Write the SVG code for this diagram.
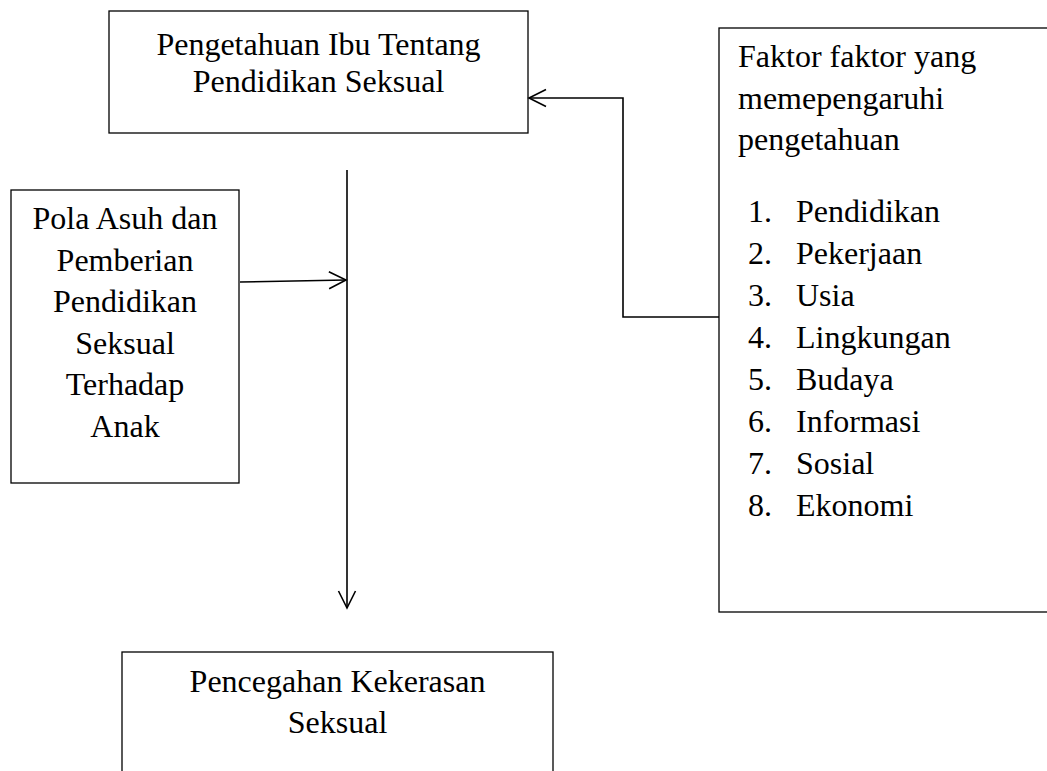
<svg xmlns="http://www.w3.org/2000/svg" width="1047" height="771" viewBox="0 0 1047 771">
<style>
.box{fill:#fff;stroke:#000;stroke-width:1.3}
.t{font-family:"Liberation Serif","Times New Roman",serif;font-size:32px;fill:#000}
.c{text-anchor:middle}
.ln{fill:none;stroke:#000;stroke-width:1.6}
</style>
<defs>
<marker id="arr" markerUnits="userSpaceOnUse" viewBox="-20 -10 22 20" markerWidth="22" markerHeight="20" refX="0" refY="0" orient="auto" overflow="visible">
<path d="M-17,-8.5 L0,0 L-17,8.5" fill="none" stroke="#000" stroke-width="1.6"/>
</marker>
</defs>
<g id="node-pengetahuan">
<rect class="box" x="109" y="11" width="419" height="122"/>
<text class="t c" x="318.5" y="55">Pengetahuan Ibu Tentang</text>
<text class="t c" x="318.5" y="92">Pendidikan Seksual</text>
</g>
<g id="node-faktor">
<rect class="box" x="719" y="28" width="340" height="584"/>
<text class="t" x="738" y="67">Faktor faktor yang</text>
<text class="t" x="738" y="108.5">memepengaruhi</text>
<text class="t" x="738" y="150">pengetahuan</text>
<text class="t" x="748" y="222">1.</text><text class="t" x="796" y="222">Pendidikan</text>
<text class="t" x="748" y="264">2.</text><text class="t" x="796" y="264">Pekerjaan</text>
<text class="t" x="748" y="306">3.</text><text class="t" x="796" y="306">Usia</text>
<text class="t" x="748" y="348">4.</text><text class="t" x="796" y="348">Lingkungan</text>
<text class="t" x="748" y="390">5.</text><text class="t" x="796" y="390">Budaya</text>
<text class="t" x="748" y="432">6.</text><text class="t" x="796" y="432">Informasi</text>
<text class="t" x="748" y="474">7.</text><text class="t" x="796" y="474">Sosial</text>
<text class="t" x="748" y="516">8.</text><text class="t" x="796" y="516">Ekonomi</text>
</g>
<g id="node-polaasuh">
<rect class="box" x="11" y="190" width="228" height="293"/>
<text class="t c" x="125" y="229">Pola Asuh dan</text>
<text class="t c" x="125" y="270.5">Pemberian</text>
<text class="t c" x="125" y="312">Pendidikan</text>
<text class="t c" x="125" y="353.5">Seksual</text>
<text class="t c" x="125" y="395">Terhadap</text>
<text class="t c" x="125" y="436.5">Anak</text>
</g>
<g id="node-pencegahan">
<rect class="box" x="122" y="652" width="431" height="140"/>
<text class="t c" x="337.5" y="692">Pencegahan Kekerasan</text>
<text class="t c" x="337.5" y="733">Seksual</text>
</g>
<g id="connectors">
<polyline class="ln" points="719,317 623,317 623,98 529,98" marker-end="url(#arr)"/>
<line class="ln" x1="347" y1="170" x2="347" y2="608" marker-end="url(#arr)"/>
<line class="ln" x1="240" y1="282" x2="346" y2="280" marker-end="url(#arr)"/>
</g>
</svg>
